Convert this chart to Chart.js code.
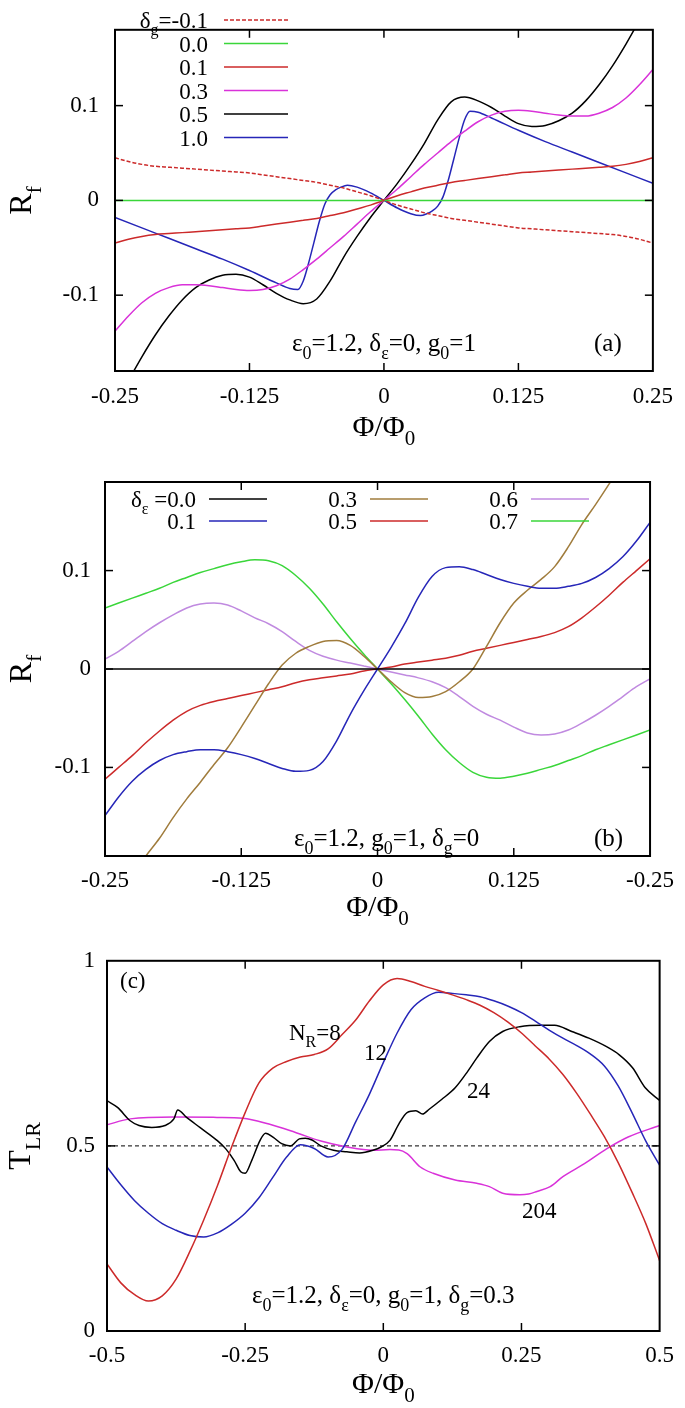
<!DOCTYPE html>
<html>
<head>
<meta charset="utf-8">
<script src="https://cdn.jsdelivr.net/npm/chart.js@4.4.1/dist/chart.umd.min.js"></script>
<style>
  body { margin: 0; background: #fff; width: 685px; height: 1408px; position: relative; overflow: hidden; }
  canvas { position: absolute; left: 0; }
</style>
</head>
<body>
<canvas id="chart-a" width="685" height="448" style="top:0"></canvas>
<canvas id="chart-b" width="685" height="487" style="top:448px"></canvas>
<canvas id="chart-c" width="685" height="473" style="top:935px"></canvas>
<script>
// ---- data ----
const phiGrid = [-0.25, -0.2375, -0.225, -0.2125, -0.2, -0.1875, -0.175, -0.1625, -0.15, -0.1375,
  -0.125, -0.1125, -0.1, -0.0875, -0.075, -0.0625, -0.05, -0.0375, -0.025, -0.0125, 0,
  0.0125, 0.025, 0.0375, 0.05, 0.0625, 0.075, 0.0875, 0.1, 0.1125, 0.125,
  0.1375, 0.15, 0.1625, 0.175, 0.1875, 0.2, 0.2125, 0.225, 0.2375, 0.25];
const phiEnds = [-0.25, 0.25];

// panel (a): R_f for several delta_g
const legendA = ['-0.1', '0.0', '0.1', '0.3', '0.5', '1.0'];
const rfDashA = [0.045, 0.041, 0.038, 0.036, 0.035, 0.034, 0.033, 0.032, 0.031, 0.030, 0.029, 0.027, 0.025, 0.023, 0.021, 0.019, 0.016, 0.013, 0.009, 0.005, 0,
  -0.005, -0.009, -0.013, -0.016, -0.019, -0.021, -0.023, -0.025, -0.027, -0.029, -0.030, -0.031, -0.032, -0.033, -0.034, -0.035, -0.036, -0.038, -0.041, -0.045];
const rfZeroA = [0, 0];
const rfRedA = [-0.045, -0.041, -0.038, -0.036, -0.035, -0.034, -0.033, -0.032, -0.031, -0.030, -0.029, -0.027, -0.025, -0.023, -0.021, -0.019, -0.016, -0.013, -0.009, -0.005, 0,
  0.005, 0.009, 0.013, 0.016, 0.019, 0.021, 0.023, 0.025, 0.027, 0.029, 0.030, 0.031, 0.032, 0.033, 0.034, 0.035, 0.036, 0.038, 0.041, 0.045];
const rfMagA = [-0.138, -0.122, -0.108, -0.098, -0.092, -0.089, -0.089, -0.090, -0.092, -0.094, -0.095, -0.094, -0.090, -0.083, -0.073, -0.062, -0.050, -0.038, -0.025, -0.012, 0,
  0.012, 0.025, 0.038, 0.050, 0.062, 0.073, 0.083, 0.090, 0.094, 0.095, 0.094, 0.092, 0.090, 0.089, 0.089, 0.092, 0.098, 0.108, 0.122, 0.138];
const rfBlackA = [-0.215, -0.190, -0.165, -0.142, -0.122, -0.105, -0.092, -0.084, -0.079, -0.078, -0.081, -0.089, -0.098, -0.105, -0.109, -0.104, -0.085, -0.060, -0.038, -0.018, 0,
  0.018, 0.038, 0.060, 0.085, 0.104, 0.109, 0.105, 0.098, 0.089, 0.081, 0.078, 0.079, 0.084, 0.092, 0.105, 0.122, 0.142, 0.165, 0.190, 0.215];
const phiBlueA = [-0.25, -0.225, -0.2, -0.175, -0.15, -0.125, -0.1, -0.0875, -0.08, -0.075, -0.07, -0.065, -0.06, -0.055, -0.05, -0.045, -0.04, -0.034, -0.025, -0.0125, 0,
  0.0125, 0.025, 0.034, 0.04, 0.045, 0.05, 0.055, 0.06, 0.065, 0.07, 0.075, 0.08, 0.0875, 0.1, 0.125, 0.15, 0.175, 0.2, 0.225, 0.25];
const rfBlueA = [-0.018, -0.029, -0.040, -0.051, -0.062, -0.074, -0.087, -0.093, -0.094, -0.085, -0.066, -0.044, -0.022, -0.004, 0.006, 0.011, 0.014, 0.016, 0.014, 0.008, 0,
  -0.008, -0.014, -0.016, -0.014, -0.011, -0.006, 0.004, 0.022, 0.044, 0.066, 0.085, 0.094, 0.093, 0.087, 0.074, 0.062, 0.051, 0.040, 0.029, 0.018];

// panel (b): R_f for several delta_eps
const legendB = ['0.0', '0.1', '0.3', '0.5', '0.6', '0.7'];
const rfZeroB = [0, 0];
const rfBlueB = [-0.149, -0.130, -0.114, -0.102, -0.093, -0.087, -0.084, -0.082, -0.082, -0.084, -0.087, -0.091, -0.096, -0.101, -0.104, -0.103, -0.094, -0.073, -0.046, -0.022, 0,
  0.022, 0.046, 0.073, 0.094, 0.103, 0.104, 0.101, 0.096, 0.091, 0.087, 0.084, 0.082, 0.082, 0.084, 0.087, 0.093, 0.102, 0.114, 0.130, 0.149];
const rfBrownB = [-0.254, -0.232, -0.210, -0.190, -0.172, -0.151, -0.132, -0.115, -0.097, -0.080, -0.059, -0.037, -0.015, 0.004, 0.016, 0.023, 0.028, 0.029, 0.024, 0.013, 0,
  -0.013, -0.024, -0.029, -0.028, -0.023, -0.013, 0.000, 0.023, 0.047, 0.067, 0.080, 0.091, 0.104, 0.124, 0.147, 0.167, 0.188, 0.210, 0.232, 0.254];
const rfRedB = [-0.112, -0.100, -0.088, -0.075, -0.063, -0.052, -0.043, -0.037, -0.033, -0.030, -0.027, -0.024, -0.021, -0.018, -0.014, -0.011, -0.009, -0.007, -0.005, -0.002, 0,
  0.002, 0.005, 0.007, 0.009, 0.011, 0.014, 0.018, 0.021, 0.024, 0.027, 0.030, 0.033, 0.037, 0.043, 0.052, 0.063, 0.075, 0.088, 0.100, 0.112];
const rfPurpleB = [0.010, 0.018, 0.028, 0.038, 0.047, 0.055, 0.062, 0.066, 0.067, 0.065, 0.059, 0.052, 0.046, 0.038, 0.028, 0.019, 0.013, 0.009, 0.006, 0.003, 0,
  -0.003, -0.006, -0.009, -0.013, -0.019, -0.028, -0.038, -0.046, -0.052, -0.059, -0.065, -0.067, -0.066, -0.062, -0.055, -0.047, -0.038, -0.028, -0.018, -0.010];
const rfGreenB = [0.062, 0.067, 0.072, 0.077, 0.082, 0.088, 0.093, 0.098, 0.102, 0.106, 0.109, 0.111, 0.110, 0.105, 0.095, 0.082, 0.066, 0.048, 0.031, 0.015, 0,
  -0.015, -0.031, -0.048, -0.066, -0.082, -0.095, -0.105, -0.110, -0.111, -0.109, -0.106, -0.102, -0.098, -0.093, -0.088, -0.082, -0.077, -0.072, -0.067, -0.062];

// panel (c): T_LR for several N_R
const phiC = [-0.5, -0.475, -0.45, -0.425, -0.4, -0.375, -0.35, -0.325, -0.3, -0.275, -0.25, -0.225, -0.2, -0.175, -0.15, -0.125, -0.1, -0.075, -0.05, -0.025, 0,
  0.025, 0.05, 0.075, 0.1, 0.125, 0.15, 0.175, 0.2, 0.225, 0.25, 0.275, 0.3, 0.325, 0.35, 0.375, 0.4, 0.425, 0.45, 0.475, 0.5];
const tRedC = [0.181, 0.130, 0.098, 0.081, 0.095, 0.140, 0.215, 0.300, 0.393, 0.495, 0.590, 0.670, 0.710, 0.728, 0.740, 0.747, 0.762, 0.800, 0.840, 0.892, 0.935,
  0.952, 0.944, 0.931, 0.920, 0.908, 0.895, 0.880, 0.860, 0.835, 0.805, 0.770, 0.735, 0.693, 0.642, 0.585, 0.525, 0.455, 0.375, 0.290, 0.190];
const tBlueC = [0.443, 0.395, 0.352, 0.318, 0.290, 0.272, 0.258, 0.254, 0.265, 0.288, 0.318, 0.360, 0.415, 0.470, 0.503, 0.493, 0.470, 0.490, 0.565, 0.640, 0.725,
  0.805, 0.868, 0.900, 0.915, 0.912, 0.908, 0.903, 0.892, 0.878, 0.860, 0.837, 0.813, 0.791, 0.771, 0.748, 0.716, 0.662, 0.590, 0.513, 0.448];
const phiBlackC = [-0.5, -0.481, -0.458, -0.442, -0.419, -0.395, -0.379, -0.372, -0.356, -0.332, -0.301, -0.285, -0.270, -0.258, -0.250, -0.238, -0.223, -0.213,
  -0.199, -0.184, -0.168, -0.152, -0.141, -0.129, -0.113, -0.090, -0.066, -0.043, -0.019, -0.004, 0.012, 0.028, 0.043, 0.059, 0.071, 0.083,
  0.106, 0.130, 0.153, 0.169, 0.192, 0.216, 0.247, 0.286, 0.310, 0.341, 0.372, 0.404, 0.427, 0.451, 0.474, 0.5];
const tBlackC = [0.622, 0.604, 0.568, 0.555, 0.550, 0.555, 0.573, 0.597, 0.577, 0.550, 0.515, 0.492, 0.461, 0.430, 0.426, 0.461, 0.515, 0.534,
  0.523, 0.506, 0.500, 0.519, 0.521, 0.516, 0.500, 0.488, 0.484, 0.481, 0.488, 0.497, 0.515, 0.559, 0.590, 0.595, 0.586, 0.599,
  0.626, 0.657, 0.702, 0.737, 0.782, 0.809, 0.822, 0.826, 0.826, 0.809, 0.791, 0.768, 0.746, 0.711, 0.657, 0.623];
const phiMagC = [-0.5, -0.458, -0.379, -0.301, -0.254, -0.207, -0.160, -0.113, -0.066, -0.019, 0.012, 0.028, 0.043, 0.067,
  0.090, 0.130, 0.169, 0.192, 0.216, 0.247, 0.263, 0.278, 0.302, 0.325, 0.364, 0.404, 0.443, 0.5];
const tMagC = [0.557, 0.573, 0.578, 0.577, 0.575, 0.559, 0.537, 0.513, 0.497, 0.488, 0.490, 0.489, 0.479, 0.443,
  0.426, 0.408, 0.399, 0.390, 0.372, 0.368, 0.370, 0.377, 0.390, 0.417, 0.452, 0.492, 0.524, 0.555];
const phiEndsC = [-0.5, 0.5];
const tHalfC = [0.5, 0.5];

// ticks
const xTicksAB = [-0.25, -0.125, 0, 0.125, 0.25];
const xLabelsA = ['-0.25', '-0.125', '0', '0.125', '0.25'];
const xLabelsB = ['-0.25', '-0.125', '0', '0.125', '-0.25'];
const yTicksAB = [-0.1, 0, 0.1];
const yLabelsAB = ['-0.1', '0', '0.1'];
const xTicksC = [-0.5, -0.25, 0, 0.25, 0.5];
const xLabelsC = ['-0.5', '-0.25', '0', '0.25', '0.5'];
const yTicksC = [0, 0.5, 1];
const yLabelsC = ['0', '0.5', '1'];

// ---- helpers ----
const SERIF = '"Liberation Serif", "Times New Roman", serif';
const pts = (xs, ys) => xs.map((x, i) => ({ x: x, y: ys[i] }));

function richText(ctx, parts, x, y, size, align) {
  const subSize = Math.round(size * 0.7);
  const fontOf = s => (s ? subSize : size) + 'px ' + SERIF;
  let total = 0;
  parts.forEach(p => { ctx.font = fontOf(p[1]); total += ctx.measureText(p[0]).width; });
  let cx = align === 'right' ? x - total : (align === 'center' ? x - total / 2 : x);
  ctx.textAlign = 'left';
  ctx.textBaseline = 'alphabetic';
  parts.forEach(p => {
    ctx.font = fontOf(p[1]);
    ctx.fillText(p[0], cx, p[1] ? y + size * 0.3 : y);
    cx += ctx.measureText(p[0]).width;
  });
}

function line(ctx, x1, y1, x2, y2) {
  ctx.beginPath(); ctx.moveTo(x1, y1); ctx.lineTo(x2, y2); ctx.stroke();
}

function series(label, data, color, dash) {
  return {
    label: label, data: data, borderColor: color, backgroundColor: color,
    borderWidth: 1.5, borderDash: dash || [], pointRadius: 0, fill: false,
    cubicInterpolationMode: 'monotone'
  };
}

// frame, inward ticks, titles, legend and notes
function decoration(cfg) {
  return {
    id: 'deco',
    afterDraw(chart) {
      const ctx = chart.ctx;
      const a = chart.chartArea;
      const sx = chart.scales.x, sy = chart.scales.y;
      ctx.save();
      ctx.strokeStyle = '#000';
      ctx.lineWidth = 1.5;
      sx.ticks.forEach(t => {
        const px = sx.getPixelForValue(t.value);
        if (px <= a.left + 1 || px >= a.right - 1) return;
        line(ctx, px, a.bottom, px, a.bottom - 8);
        line(ctx, px, a.top, px, a.top + 8);
      });
      sy.ticks.forEach(t => {
        const py = sy.getPixelForValue(t.value);
        if (py <= a.top + 1 || py >= a.bottom - 1) return;
        line(ctx, a.left, py, a.left + 8, py);
        line(ctx, a.right, py, a.right - 8, py);
      });
      ctx.lineWidth = 2;
      ctx.strokeRect(a.left, a.top, a.right - a.left, a.bottom - a.top);

      ctx.fillStyle = '#000';
      // x title
      richText(ctx, [['\u03A6/\u03A6', 0], ['0', 1]], (a.left + a.right) / 2, cfg.xTitleY, 30, 'center');
      // y title (rotated)
      ctx.save();
      ctx.translate(cfg.yTitleX, (a.top + a.bottom) / 2);
      ctx.rotate(-Math.PI / 2);
      richText(ctx, cfg.yTitle, 0, 0, 32, 'center');
      ctx.restore();

      // legend
      if (cfg.legend) {
        chart.data.datasets.forEach((ds, i) => {
          const e = cfg.legend(i);
          if (!e) return;
          ctx.fillStyle = '#000';
          richText(ctx, e.parts, e.tx, e.y + 8, 23, 'right');
          ctx.strokeStyle = ds.borderColor;
          ctx.lineWidth = ds.borderWidth;
          ctx.setLineDash(ds.borderDash || []);
          line(ctx, e.lx, e.y, e.lx + e.len, e.y);
          ctx.setLineDash([]);
        });
      }
      // notes inside the plot
      ctx.fillStyle = '#000';
      (cfg.notes || []).forEach(n => richText(ctx, n.parts, n.x, n.y, n.size || 23, n.align || 'left'));
      ctx.restore();
    }
  };
}

function axis(min, max, tickVals, tickLabels, fit, pad) {
  return {
    type: 'linear', min: min, max: max,
    grid: { display: false, drawTicks: false },
    border: { display: false },
    afterBuildTicks: ax => { ax.ticks = tickVals.map(v => ({ value: v })); },
    afterFit: fit,
    ticks: {
      autoSkip: false, maxRotation: 0, minRotation: 0, padding: pad, color: '#000',
      font: { family: SERIF, size: 23 },
      callback: (v, i) => tickLabels[i]
    }
  };
}

function options(c) {
  return {
    responsive: false,
    animation: false,
    devicePixelRatio: 1,
    layout: { autoPadding: false, padding: { left: 0, top: c.top, right: c.right, bottom: 0 } },
    plugins: { legend: { display: false }, tooltip: { enabled: false } },
    scales: {
      x: axis(c.xmin, c.xmax, c.xt, c.xl, ax => { ax.height = c.xh; }, c.xpad),
      y: axis(c.ymin, c.ymax, c.yt, c.yl, ax => { ax.width = c.yw; }, c.ypad)
    }
  };
}

// ---- panel (a) ----
new Chart(document.getElementById('chart-a'), {
  type: 'line',
  data: {
    datasets: [
      series(legendA[0], pts(phiGrid, rfDashA), '#cc2a2a', [4, 2]),
      series(legendA[1], pts(phiEnds, rfZeroA), '#3ad63a'),
      series(legendA[2], pts(phiGrid, rfRedA), '#cc2a2a'),
      series(legendA[3], pts(phiGrid, rfMagA), '#d932d9'),
      series(legendA[4], pts(phiGrid, rfBlackA), '#000000'),
      series(legendA[5], pts(phiBlueA, rfBlueA), '#2626b8')
    ]
  },
  options: options({ top: 6, right: 26, xh: 77, yw: 115, xpad: 12, ypad: 16,
    xmin: -0.25, xmax: 0.25, ymin: -0.18, ymax: 0.18,
    xt: xTicksAB, xl: xLabelsA, yt: yTicksAB, yl: yLabelsAB }),
  plugins: [decoration({
    xTitleY: 436, yTitleX: 31,
    yTitle: [['R', 0], ['f', 1]],
    legend: i => ({
      parts: i === 0 ? [['\u03B4', 0], ['g', 1], ['=' + legendA[0], 0]] : [[legendA[i], 0]],
      tx: 208, lx: 224, len: 64, y: 20 + 23.5 * i
    }),
    notes: [
      { parts: [['\u03B5', 0], ['0', 1], ['=1.2, \u03B4', 0], ['\u03B5', 1], ['=0, g', 0], ['0', 1], ['=1', 0]], x: 292, y: 351, size: 25 },
      { parts: [['(a)', 0]], x: 594, y: 351, size: 25 }
    ]
  })]
});

// ---- panel (b) ----
new Chart(document.getElementById('chart-b'), {
  type: 'line',
  data: {
    datasets: [
      series(legendB[0], pts(phiEnds, rfZeroB), '#000000'),
      series(legendB[1], pts(phiGrid, rfBlueB), '#2626b8'),
      series(legendB[2], pts(phiGrid, rfBrownB), '#a07c3c'),
      series(legendB[3], pts(phiGrid, rfRedB), '#cc2a2a'),
      series(legendB[4], pts(phiGrid, rfPurpleB), '#c08ae0'),
      series(legendB[5], pts(phiGrid, rfGreenB), '#3ad63a')
    ]
  },
  options: options({ top: 34, right: 27, xh: 79, yw: 105, xpad: 11, ypad: 14,
    xmin: -0.25, xmax: 0.25, ymin: -0.19, ymax: 0.19,
    xt: xTicksAB, xl: xLabelsB, yt: yTicksAB, yl: yLabelsAB }),
  plugins: [decoration({
    xTitleY: 468, yTitleX: 31,
    yTitle: [['R', 0], ['f', 1]],
    legend: i => {
      const col = Math.floor(i / 2), row = i % 2;
      return {
        parts: i === 0 ? [['\u03B4', 0], ['\u03B5', 1], [' =' + legendB[0], 0]] : [[legendB[i], 0]],
        tx: [196, 357, 518][col], lx: [209, 370, 531][col], len: 58, y: [51, 73][row]
      };
    },
    notes: [
      { parts: [['\u03B5', 0], ['0', 1], ['=1.2, g', 0], ['0', 1], ['=1, \u03B4', 0], ['g', 1], ['=0', 0]], x: 294, y: 398, size: 25 },
      { parts: [['(b)', 0]], x: 594, y: 398, size: 25 }
    ]
  })]
});

// ---- panel (c) ----
new Chart(document.getElementById('chart-c'), {
  type: 'line',
  data: {
    datasets: [
      series('8', pts(phiC, tRedC), '#cc2a2a'),
      series('12', pts(phiC, tBlueC), '#2626b8'),
      series('24', pts(phiBlackC, tBlackC), '#000000'),
      series('204', pts(phiMagC, tMagC), '#d932d9'),
      Object.assign(series('half', pts(phiEndsC, tHalfC), '#000000', [4, 3]), { borderWidth: 1 })
    ]
  },
  options: options({ top: 23, right: 20, xh: 77, yw: 107, xpad: 11, ypad: 12,
    xmin: -0.5, xmax: 0.5, ymin: 0, ymax: 1,
    xt: xTicksC, xl: xLabelsC, yt: yTicksC, yl: yLabelsC }),
  plugins: [decoration({
    xTitleY: 458, yTitleX: 30,
    yTitle: [['T', 0], ['LR', 1]],
    notes: [
      { parts: [['(c)', 0]], x: 120, y: 53 },
      { parts: [['N', 0], ['R', 1], ['=8', 0]], x: 289, y: 105 },
      { parts: [['12', 0]], x: 364, y: 125 },
      { parts: [['24', 0]], x: 467, y: 163 },
      { parts: [['204', 0]], x: 522, y: 283 },
      { parts: [['\u03B5', 0], ['0', 1], ['=1.2, \u03B4', 0], ['\u03B5', 1], ['=0, g', 0], ['0', 1], ['=1, \u03B4', 0], ['g', 1], ['=0.3', 0]], x: 252, y: 368, size: 25 }
    ]
  })]
});
</script>
</body>
</html>
